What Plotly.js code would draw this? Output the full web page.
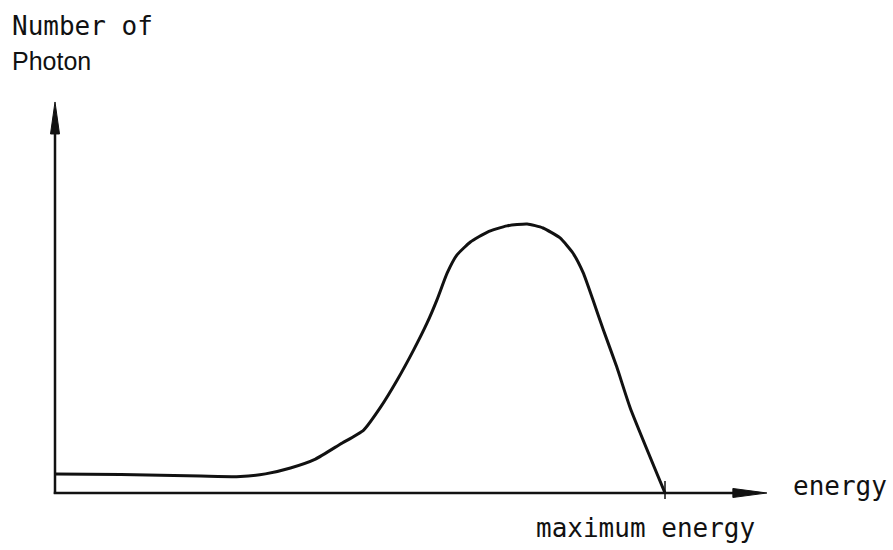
<!DOCTYPE html>
<html>
<head>
<meta charset="utf-8">
<script src="https://cdn.plot.ly/plotly-3.0.1.min.js"></script>
<style>html,body{margin:0;padding:0;background:#fff;}#chart{width:893px;height:550px;}</style>
</head>
<body>
<div id="chart"></div>
<script>
// Spectrum (energy in % of maximum energy, photon count in % of peak)
const energy  = [0, 10.8, 23.9, 30.4, 34.5, 38.6, 42.7, 46.8, 50.6, 53.4, 56.1, 58.8, 61.0, 62.6, 64.3, 65.9, 68.1, 70.9, 74.1, 77.4, 80.0, 82.8, 84.9, 86.6, 88.2, 89.9, 92.1, 94.3, 100];
const photons = [7.1, 6.9, 6.3, 6.1, 7.1, 9.3, 12.6, 18.2, 23.4, 32.0, 42.0, 53.2, 63.2, 71.7, 81.8, 88.5, 93.3, 97.0, 99.3, 100, 98.5, 94.8, 89.2, 81.8, 71.7, 60.6, 46.8, 31.6, 0];
const maxEnergy = 100;
const yLabelLines = ["Number of", "Photon"];
const xLabel = "energy";
const maxLabel = "maximum energy";

const W = 893, H = 550;
const margin = {l: 43, r: 106, t: 90, b: 30};
const xRange = [-1.967, 120];
const yRange = [-10.04, 149.8];
const xTip = 116.7, yTip = 145.35;   // where the axis arrows end
const ink = "#111";
const mono = "DejaVu Sans Mono, monospace";
const sans = "Liberation Sans, Arial, sans-serif";

const data = [{
  x: energy, y: photons, type: "scatter", mode: "lines",
  line: {color: ink, width: 3, shape: "spline", smoothing: 0.5},
  hoverinfo: "skip", cliponaxis: false
}];

const shapes = [
  // y axis line
  {type: "line", xref: "x", yref: "y", x0: 0, x1: 0, y0: -0.4, y1: yTip - 8, line: {color: ink, width: 2.5}},
  // x axis line
  {type: "line", xref: "x", yref: "y", x0: -0.2, x1: xTip - 3, y0: 0, y1: 0, line: {color: ink, width: 2.5}},
  // y arrow head
  {type: "path", xref: "x", yref: "y", xsizemode: "pixel", ysizemode: "pixel", xanchor: 0, yanchor: yTip,
   path: "M 0 0 L -4.5 -32 L 4.5 -32 Z", fillcolor: ink, line: {color: ink, width: 1}},
  // x arrow head
  {type: "path", xref: "x", yref: "y", xsizemode: "pixel", ysizemode: "pixel", xanchor: xTip, yanchor: 0,
   path: "M 0 0 L -34 4.5 L -34 -4.5 Z", fillcolor: ink, line: {color: ink, width: 1}},
  // maximum energy tick
  {type: "line", xref: "x", yref: "y", ysizemode: "pixel", yanchor: 0, x0: maxEnergy, x1: maxEnergy, y0: -6, y1: 12,
   line: {color: ink, width: 1.5}}
];

const px = v => (v - margin.l) / (W - margin.l - margin.r);
const py = v => (H - margin.b - v) / (H - margin.t - margin.b);

const annotations = [
  {text: yLabelLines[0], xref: "paper", yref: "paper", x: px(10), y: py(26), xanchor: "left", yanchor: "middle",
   showarrow: false, font: {family: mono, size: 26, color: ink}},
  {text: yLabelLines[1], xref: "paper", yref: "paper", x: px(10), y: py(61), xanchor: "left", yanchor: "middle",
   showarrow: false, font: {family: sans, size: 25, color: ink}},
  {text: xLabel, xref: "paper", yref: "paper", x: px(791), y: py(486), xanchor: "left", yanchor: "middle",
   showarrow: false, font: {family: mono, size: 26, color: ink}},
  {text: maxLabel, xref: "paper", yref: "paper", x: px(757), y: py(528), xanchor: "right", yanchor: "middle",
   showarrow: false, font: {family: mono, size: 26, color: ink}}
];

const axisBase = {showgrid: false, zeroline: false, showticklabels: false, showline: false, ticks: "", fixedrange: true};

const layout = {
  width: W, height: H, margin: margin,
  paper_bgcolor: "#fff", plot_bgcolor: "#fff", showlegend: false,
  xaxis: Object.assign({range: xRange}, axisBase),
  yaxis: Object.assign({range: yRange}, axisBase),
  shapes: shapes, annotations: annotations
};

Plotly.newPlot("chart", data, layout, {displayModeBar: false, staticPlot: true});
</script>
</body>
</html>
